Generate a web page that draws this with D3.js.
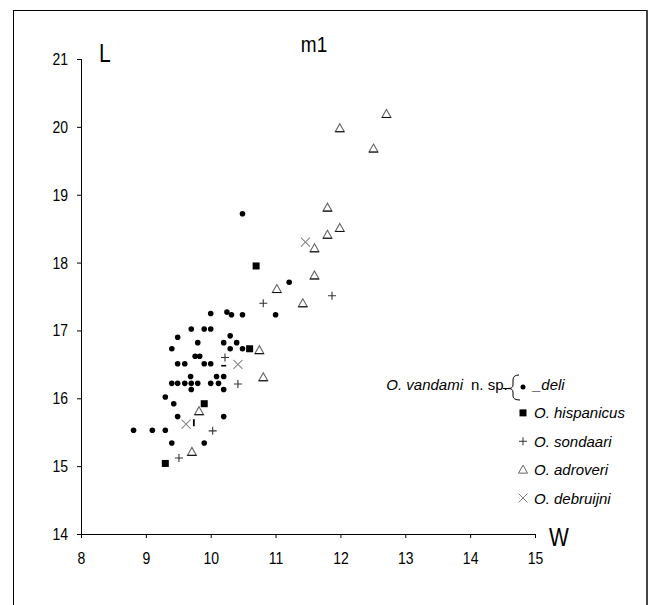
<!DOCTYPE html>
<html>
<head>
<meta charset="utf-8">
<script src="https://cdn.jsdelivr.net/npm/d3@7"></script>
<style>
  body { margin: 0; background: #fff; }
  text { font-family: "Liberation Sans", Arial, sans-serif; fill: #000; }
</style>
</head>
<body>
<svg id="chart" width="652" height="605"></svg>
<script>
var vandami = [
    [10.0, 17.25], [10.25, 17.27], [10.32, 17.23], [10.49, 17.23], [11.0, 17.23],
    [9.70, 17.02], [9.90, 17.02], [10.0, 17.02],
    [9.49, 16.90], [10.30, 16.92],
    [9.80, 16.82], [10.20, 16.82], [10.40, 16.82],
    [9.40, 16.73], [10.30, 16.73], [10.49, 16.73],
    [9.76, 16.62], [9.83, 16.62],
    [9.49, 16.51], [9.60, 16.51], [9.90, 16.51], [10.0, 16.51],
    [9.69, 16.32], [10.09, 16.32], [10.20, 16.32],
    [9.40, 16.22], [9.49, 16.22], [9.60, 16.22], [9.70, 16.22], [9.80, 16.22], [10.0, 16.22], [10.12, 16.22],
    [9.70, 16.13], [10.20, 16.13],
    [9.30, 16.02], [9.43, 15.92], [9.49, 15.73], [10.20, 15.73],
    [8.81, 15.53], [9.10, 15.53], [9.30, 15.53],
    [9.40, 15.34], [9.90, 15.34],
    [11.21, 17.71], [10.49, 18.72]
];
var deliDash = [[10.20, 16.48]];
var deliBar = [[9.74, 15.64]];
var hispanicus = [[10.70, 17.95], [10.60, 16.73], [9.90, 15.92], [9.30, 15.04]];
var sondaari = [[10.81, 17.40], [11.87, 17.51], [10.22, 16.60], [10.42, 16.21], [10.03, 15.52], [9.51, 15.12]];
var adroveri = [
    [12.71, 20.19], [12.51, 19.68], [11.99, 19.98], [11.80, 18.81], [11.99, 18.51],
    [11.80, 18.41], [11.60, 18.21], [11.60, 17.81], [11.02, 17.61], [11.42, 17.40],
    [10.75, 16.71], [10.81, 16.31], [9.82, 15.81], [9.71, 15.21]
];
var debruijni = [[11.46, 18.30], [10.42, 16.50], [9.62, 15.62]];

var xTicks = [8, 9, 10, 11, 12, 13, 14, 15];
var yTicks = [14, 15, 16, 17, 18, 19, 20, 21];
var legendNames = ["O. hispanicus", "O. sondaari", "O. adroveri", "O. debruijni"];

var svg = d3.select("#chart");

// outer frame
svg.append("rect")
    .attr("x", 13.5).attr("y", 10.5)
    .attr("width", 633).attr("height", 640)
    .attr("fill", "none").attr("stroke", "#000");
svg.append("line")
    .attr("x1", 647).attr("x2", 647).attr("y1", 10).attr("y2", 605)
    .attr("stroke", "#444").attr("stroke-width", 2);

var x = d3.scaleLinear().domain([8, 15]).range([81, 535]);
var y = d3.scaleLinear().domain([14, 21]).range([534, 59]);

// axes
var xAxis = svg.append("g")
    .attr("transform", "translate(0,534)")
    .call(d3.axisBottom(x).tickValues(xTicks).tickSize(4).tickFormat(d3.format("d")));
var yAxis = svg.append("g")
    .attr("transform", "translate(81,0)")
    .call(d3.axisLeft(y).tickValues(yTicks).tickSize(4).tickFormat(d3.format("d")));

svg.selectAll(".domain").attr("stroke", "#000").attr("d", null);
xAxis.select(".domain").remove();
yAxis.select(".domain").remove();
svg.append("line").attr("x1", 81).attr("x2", 535).attr("y1", 534.5).attr("y2", 534.5).attr("stroke", "#000");
svg.append("line").attr("x1", 81.5).attr("x2", 81.5).attr("y1", 59).attr("y2", 534).attr("stroke", "#000");
svg.selectAll(".tick line").attr("stroke", "#000");

// the original art is stretched a little vertically
xAxis.selectAll("text")
    .attr("y", null).attr("dy", null)
    .attr("font-size", 14).attr("font-family", "Liberation Sans, Arial")
    .attr("fill", "#000")
    .attr("transform", "translate(0,30) scale(1,1.17)");
yAxis.selectAll("text")
    .attr("x", null).attr("dy", null)
    .attr("font-size", 14).attr("font-family", "Liberation Sans, Arial")
    .attr("fill", "#000")
    .attr("transform", "translate(-13,5.5) scale(1,1.17)");

// axis letters + title
svg.append("text").attr("transform", "translate(99,62) scale(1,1.25)")
    .attr("font-size", 21).text("L");
svg.append("text").attr("transform", "translate(549,546) scale(1,1.25)")
    .attr("font-size", 21).text("W");
svg.append("text").attr("transform", "translate(314,52) scale(1,1.15)")
    .attr("text-anchor", "middle").attr("font-size", 19).text("m1");

// markers
var tri = "M0,-4.5L4.5,3.5L-4.5,3.5Z";
var plus = "M-4,0H4M0,-4V4";
var cross = "M-4.5,-4.5L4.5,4.5M-4.5,4.5L4.5,-4.5";

function drawPath(data, d, stroke) {
    svg.append("g").selectAll("path")
        .data(data)
        .enter()
        .append("path")
        .attr("transform", function (p) { return "translate(" + x(p[0]) + "," + y(p[1]) + ")"; })
        .attr("d", d)
        .attr("fill", "none")
        .attr("stroke", stroke)
        .attr("stroke-width", 1.1);
}

drawPath(adroveri, tri, "#666");
drawPath(adroveri, "M-4.5,3.5H4.5", "#111");
drawPath(sondaari, plus, "#333");
drawPath(debruijni, cross, "#888");

svg.append("g").selectAll("rect")
    .data(hispanicus)
    .enter()
    .append("rect")
    .attr("x", function (p) { return x(p[0]) - 3.5; })
    .attr("y", function (p) { return y(p[1]) - 3.5; })
    .attr("width", 7).attr("height", 7)
    .attr("fill", "#000");

svg.append("g").selectAll("circle")
    .data(vandami)
    .enter()
    .append("circle")
    .attr("cx", function (p) { return x(p[0]); })
    .attr("cy", function (p) { return y(p[1]); })
    .attr("r", 2.8)
    .attr("fill", "#000");

svg.append("g").selectAll("rect")
    .data(deliDash)
    .enter()
    .append("rect")
    .attr("x", function (p) { return x(p[0]) - 2.5; })
    .attr("y", function (p) { return y(p[1]) - 0.8; })
    .attr("width", 5).attr("height", 1.6)
    .attr("fill", "#000");
svg.append("g").selectAll("rect")
    .data(deliBar)
    .enter()
    .append("rect")
    .attr("x", function (p) { return x(p[0]) - 0.9; })
    .attr("y", function (p) { return y(p[1]) - 3.5; })
    .attr("width", 1.8).attr("height", 7)
    .attr("fill", "#000");

// legend
var lg = svg.append("g");
var rowY = d3.scalePoint().domain(d3.range(legendNames.length + 1)).range([384.5, 498]);

lg.append("text").attr("x", 463).attr("y", rowY(0) + 5)
    .attr("text-anchor", "end").attr("font-style", "italic").attr("font-size", 15)
    .text("O. vandami");
lg.append("text").attr("x", 471).attr("y", rowY(0) + 5)
    .attr("font-size", 15).text("n. sp.");
lg.append("path")
    .attr("d", "M503,388.5H508M519,375Q513,375 513,380V385Q513,388.5 508,388.5Q513,388.5 513,392V396Q513,400 520,400")
    .attr("fill", "none").attr("stroke", "#000");
lg.append("circle").attr("cx", 523).attr("cy", 387).attr("r", 2.5).attr("fill", "#000");
lg.append("text").attr("x", 533).attr("y", rowY(0) + 5)
    .attr("font-style", "italic").attr("font-size", 15).text("_deli");

lg.append("rect").attr("x", 519.5).attr("y", rowY(1) - 3.5).attr("width", 7).attr("height", 7).attr("fill", "#000");
lg.append("path").attr("transform", "translate(523," + rowY(2) + ")").attr("d", plus)
    .attr("stroke", "#333").attr("fill", "none");
lg.append("path").attr("transform", "translate(523," + rowY(3) + ")").attr("d", tri)
    .attr("stroke", "#666").attr("fill", "none");
lg.append("path").attr("transform", "translate(523," + rowY(4) + ")").attr("d", cross)
    .attr("stroke", "#888").attr("fill", "none");

lg.selectAll("text.name")
    .data(legendNames)
    .enter()
    .append("text")
    .attr("class", "name")
    .attr("x", 534)
    .attr("y", function (d, i) { return rowY(i + 1) + 5.5; })
    .attr("font-style", "italic")
    .attr("font-size", 15)
    .text(function (d) { return d; });
</script>
</body>
</html>
